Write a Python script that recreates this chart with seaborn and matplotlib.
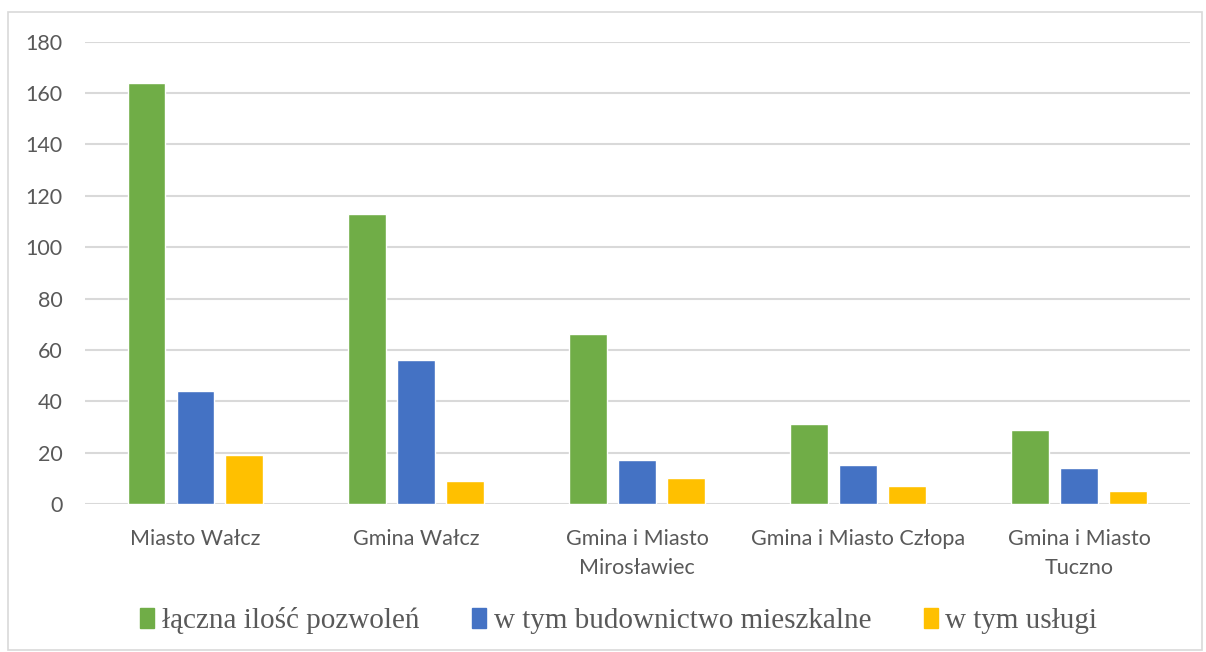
import matplotlib.pyplot as plt
import matplotlib.patches as mpatches
import pandas as pd
import seaborn as sns

# data
categories = ['Miasto Wałcz', 'Gmina Wałcz', 'Gmina i Miasto\nMirosławiec',
              'Gmina i Miasto Człopa', 'Gmina i Miasto\nTuczno']
series = ['łączna ilość pozwoleń', 'w tym budownictwo mieszkalne', 'w tym usługi']
total = [164, 113, 66, 31, 29]
housing = [44, 56, 17, 15, 14]
services = [19, 9, 10, 7, 5]
colors = ['#70AD47', '#4472C4', '#FFC000']

df = pd.DataFrame({
    'kategoria': categories * 3,
    'seria': [series[0]] * 5 + [series[1]] * 5 + [series[2]] * 5,
    'wartosc': total + housing + services,
})

sns.set_style('white')
plt.rcParams['font.family'] = ['Lato', 'DejaVu Sans']

fig = plt.figure(figsize=(12.06, 6.52), dpi=100)
ax = fig.add_axes([0.0705, 0.227, 0.916, 0.709])

sns.barplot(data=df, x='kategoria', y='wartosc', hue='seria',
            palette=colors, width=0.665, gap=0.225, ax=ax,
            saturation=1, legend=False, zorder=3)

ax.set_ylim(0, 180)
ax.set_yticks(range(0, 181, 20))
ax.set_xlim(-0.5, 4.5)
ax.yaxis.grid(True, color='#d9d9d9', linewidth=1.5, zorder=0)
ax.set_axisbelow(True)
for s in ax.spines.values():
    s.set_visible(False)
ax.set_xlabel('')
ax.set_ylabel('')
ax.tick_params(axis='both', length=0, labelsize=15.5, labelcolor='#595959')
ax.tick_params(axis='y', pad=16)
ax.tick_params(axis='x', pad=18)
for t in ax.get_xticklabels():
    t.set_linespacing(1.55)

handles = [mpatches.Patch(color=c, label=l) for c, l in zip(colors, series)]
fig.legend(handles=handles, loc='center', bbox_to_anchor=(0.513, 0.048), ncol=3,
           frameon=False, handlelength=0.5, handleheight=0.7, handletextpad=0.25,
           columnspacing=1.8, prop={'family': 'Liberation Serif', 'size': 21},
           labelcolor='#595959')

# chart-area frame
fig.patches.append(mpatches.Rectangle((0.007, 0.003), 0.99, 0.979, transform=fig.transFigure,
                                      fill=False, edgecolor='#d9d9d9', linewidth=1.2))

fig.savefig('out.png', dpi=100)
